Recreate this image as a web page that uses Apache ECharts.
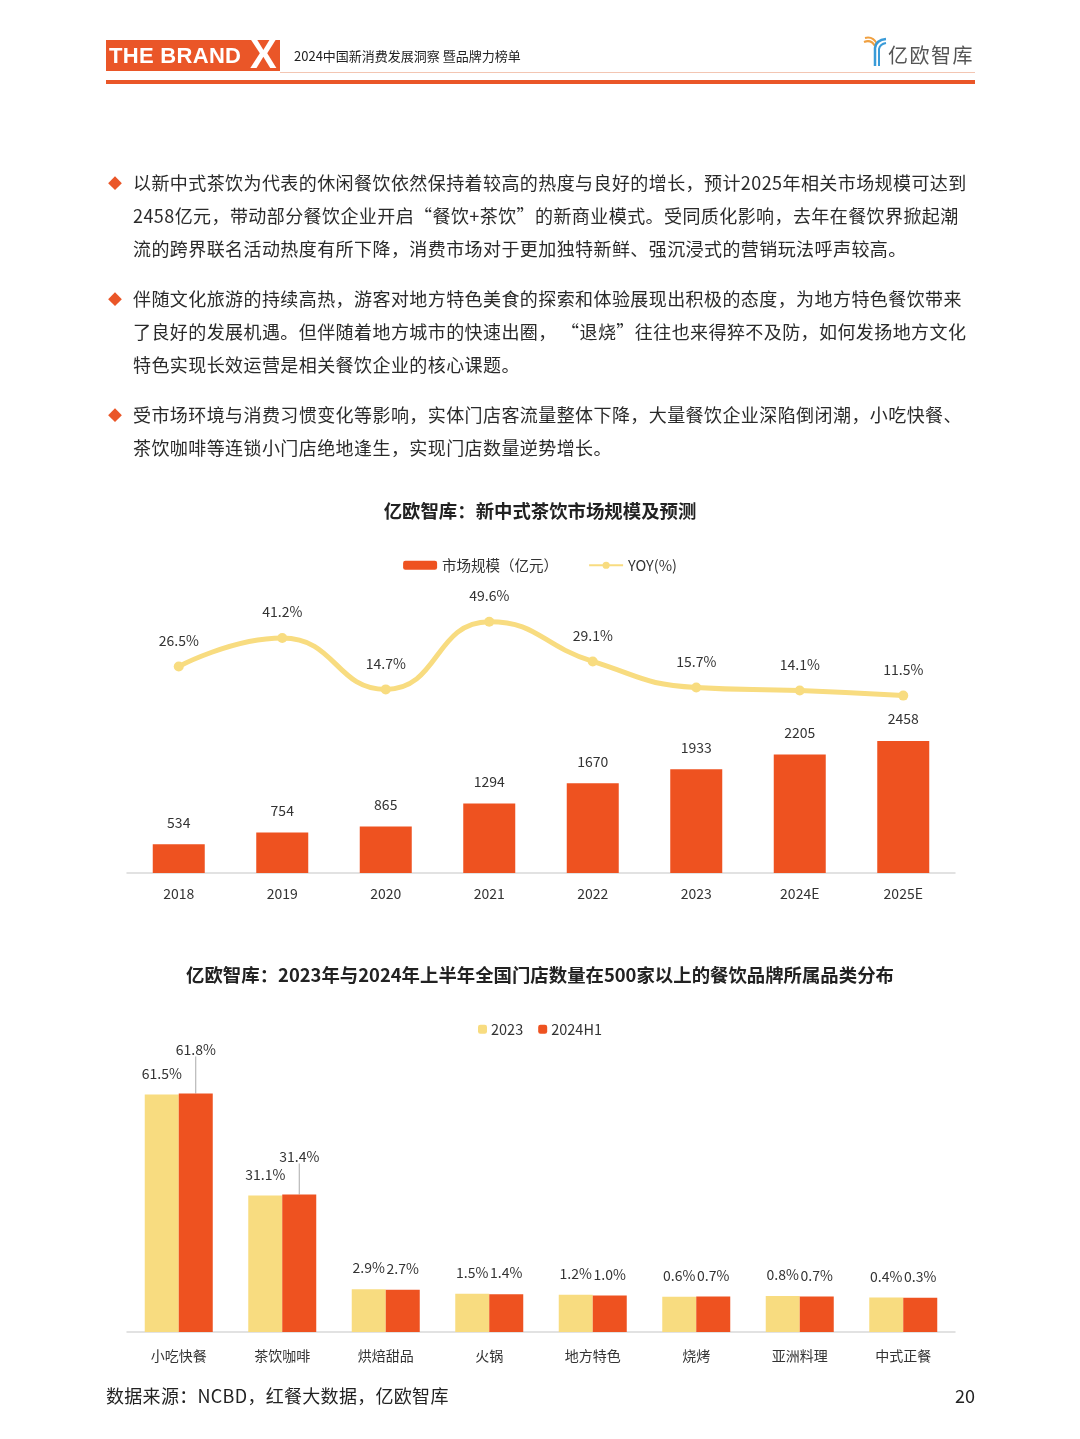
<!DOCTYPE html>
<html>
<head>
<meta charset="utf-8">
<title>新中式茶饮市场规模及预测</title>
<script src="https://cdn.jsdelivr.net/npm/echarts@6/dist/echarts.min.js"></script>
<style>
	body { margin: 0; background: #fff; font-family: "Noto Sans CJK SC", "Noto Sans", sans-serif; color: #222; }
	#page { position: relative; width: 1080px; height: 1439px; overflow: hidden; }
	#chart { position: absolute; left: 0; top: 0; width: 1080px; height: 1439px; }
	.abs { position: absolute; white-space: nowrap; }
	.para { left: 133px; font-size: 18px; line-height: 33px; letter-spacing: 0.42px; color: #2a2a2a; }
	.dot { left: 108px; font-size: 14px; line-height: 33px; color: #EA5628; }
</style>
</head>
<body>
<div id="page">
	<div id="chart"></div>

	<!-- header -->
	<div class="abs" style="left:106px;top:40px;width:174px;height:31px;background:#EA5628;"></div>
	<div class="abs" style="left:109px;top:41px;font:bold 22px/30px 'Liberation Sans',Arial,sans-serif;color:#fff;letter-spacing:0.3px;">THE BRAND</div>
	<div class="abs" style="left:250px;top:34px;font:bold 40px/40px 'Liberation Sans',Arial,sans-serif;color:#fff;">X</div>
	<div class="abs" style="left:294px;top:47px;font-size:13px;line-height:18px;color:#222;">2024中国新消费发展洞察 暨品牌力榜单</div>
	<div class="abs" style="left:280px;top:72px;width:695px;height:1px;background:#F3C6B3;"></div>
	<div class="abs" style="left:106px;top:80px;width:869px;height:4px;background:#EA5628;"></div>
	<svg class="abs" style="left:862px;top:36px;" width="26" height="32" viewBox="0 0 26 32">
		<path d="M2 6 Q9 3 13 10" stroke="#F0A040" stroke-width="2" fill="none"/>
		<path d="M3 2 Q11 0 15 8" stroke="#F0A040" stroke-width="2" fill="none"/>
		<path d="M13 30 L13 12 Q14 4 24 3" stroke="#3A9BD8" stroke-width="2.5" fill="none"/>
		<path d="M17 30 L17 13 Q18 8 24 7" stroke="#3A9BD8" stroke-width="2" fill="none"/>
	</svg>
	<div class="abs" style="left:888px;top:42px;font-size:20px;line-height:26px;color:#555;letter-spacing:1.5px;">亿欧智库</div>

	<!-- bullet text -->
	<div class="abs dot" style="top:166px;">◆</div>
	<div class="abs para" style="top:166px;">以新中式茶饮为代表的休闲餐饮依然保持着较高的热度与良好的增长，预计2025年相关市场规模可达到<br>2458亿元，带动部分餐饮企业开启“餐饮+茶饮”的新商业模式。受同质化影响，去年在餐饮界掀起潮<br>流的跨界联名活动热度有所下降，消费市场对于更加独特新鲜、强沉浸式的营销玩法呼声较高。</div>
	<div class="abs dot" style="top:282px;">◆</div>
	<div class="abs para" style="top:282px;">伴随文化旅游的持续高热，游客对地方特色美食的探索和体验展现出积极的态度，为地方特色餐饮带来<br>了良好的发展机遇。但伴随着地方城市的快速出圈， “退烧”往往也来得猝不及防，如何发扬地方文化<br>特色实现长效运营是相关餐饮企业的核心课题。</div>
	<div class="abs dot" style="top:398px;">◆</div>
	<div class="abs para" style="top:398px;">受市场环境与消费习惯变化等影响，实体门店客流量整体下降，大量餐饮企业深陷倒闭潮，小吃快餐、<br>茶饮咖啡等连锁小门店绝地逢生，实现门店数量逆势增长。</div>

	<!-- footer -->
	<div class="abs" style="left:106px;top:1382px;font-size:18px;line-height:26px;color:#222;letter-spacing:0.3px;">数据来源：NCBD，红餐大数据，亿欧智库</div>
	<div class="abs" style="left:945px;top:1382px;width:30px;text-align:right;font-size:18px;line-height:26px;color:#222;">20</div>
</div>

<script>
var years = ['2018', '2019', '2020', '2021', '2022', '2023', '2024E', '2025E'];
var marketSize = [534, 754, 865, 1294, 1670, 1933, 2205, 2458];
var yoy = [26.5, 41.2, 14.7, 49.6, 29.1, 15.7, 14.1, 11.5];

var categories = ['小吃快餐', '茶饮咖啡', '烘焙甜品', '火锅', '地方特色', '烧烤', '亚洲料理', '中式正餐'];
var share2023 = [61.5, 31.1, 2.9, 1.5, 1.2, 0.6, 0.8, 0.4];
var share2024H1 = [61.8, 31.4, 2.7, 1.4, 1.0, 0.7, 0.7, 0.3];

var ORANGE = '#EE5220';
var YELLOW = '#F8DC80';
var FONT = '"Noto Sans CJK SC", "Noto Sans", sans-serif';

function pct(p) {
	return p.value.toFixed(1) + '%';
}

var labelStyle = { fontSize: 14, color: '#333', fontFamily: FONT };

var chart = echarts.init(document.getElementById('chart'));

chart.setOption({
	animation: false,
	textStyle: { fontFamily: FONT },
	title: [
		{
			text: '亿欧智库：新中式茶饮市场规模及预测',
			left: 'center', top: 502, padding: 0,
			textStyle: { fontSize: 18.4, fontWeight: 'bold', color: '#222', fontFamily: FONT }
		},
		{
			text: '亿欧智库：2023年与2024年上半年全国门店数量在500家以上的餐饮品牌所属品类分布',
			left: 'center', top: 966, padding: 0,
			textStyle: { fontSize: 18.4, fontWeight: 'bold', color: '#222', fontFamily: FONT }
		}
	],
	legend: [
		{
			data: ['市场规模（亿元）', 'YOY(%)'],
			left: 'center', top: 558, padding: 0,
			itemWidth: 34, itemHeight: 9, itemGap: 30,
			textStyle: { fontSize: 14.5, color: '#333' }
		},
		{
			data: ['2023', '2024H1'],
			left: 'center', top: 1022, padding: 0,
			itemWidth: 9, itemHeight: 9, itemGap: 15,
			textStyle: { fontSize: 14.5, color: '#333', padding: [0, 0, 0, -1] }
		}
	],
	grid: [
		{ left: 127, width: 828, top: 524, height: 349 },
		{ left: 127, width: 828, top: 1033, height: 299 }
	],
	xAxis: [
		{
			gridIndex: 0, type: 'category', data: years,
			axisLine: { onZero: false, lineStyle: { color: '#d9d9d9', width: 1.5 } },
			axisTick: { show: false },
			axisLabel: { margin: 14, fontSize: 14, color: '#333' }
		},
		{
			gridIndex: 1, type: 'category', data: categories,
			axisLine: { onZero: false, lineStyle: { color: '#d9d9d9', width: 1.5 } },
			axisTick: { show: false },
			axisLabel: { margin: 17, fontSize: 14, color: '#333' }
		}
	],
	yAxis: [
		{ gridIndex: 0, type: 'value', min: 0, max: 6500, show: false },
		{ gridIndex: 0, type: 'value', min: -80, max: 100, show: false },
		{ gridIndex: 1, type: 'value', min: -10, max: 80, startValue: -10, show: false }
	],
	series: [
		{
			name: '市场规模（亿元）', type: 'bar',
			xAxisIndex: 0, yAxisIndex: 0,
			data: marketSize, barWidth: 52,
			itemStyle: { color: ORANGE },
			label: Object.assign({ show: true, position: 'top', distance: 15 }, labelStyle)
		},
		{
			name: 'YOY(%)', type: 'line',
			xAxisIndex: 0, yAxisIndex: 1,
			data: yoy, smooth: 0.5, clip: false,
			symbol: 'circle', symbolSize: 10,
			lineStyle: { color: YELLOW, width: 5 },
			itemStyle: { color: YELLOW },
			label: Object.assign({ show: true, position: 'top', distance: 14, formatter: pct }, labelStyle)
		},
		{
			name: '2023', type: 'bar',
			xAxisIndex: 1, yAxisIndex: 2,
			data: share2023, barWidth: 34, barGap: '0%',
			itemStyle: { color: YELLOW },
			label: Object.assign({ show: true, position: 'top', distance: 14, formatter: pct }, labelStyle)
		},
		{
			name: '2024H1', type: 'bar',
			xAxisIndex: 1, yAxisIndex: 2,
			data: share2024H1.map(function(v, i) {
				// the two tall bars have their labels lifted with a leader line
				return i < 2 ? { value: v, labelLine: { show: true } } : v;
			}),
			barWidth: 34, barGap: '0%',
			itemStyle: { color: ORANGE },
			label: Object.assign({ show: true, position: 'top', distance: 14, formatter: pct }, labelStyle),
			labelLine: { lineStyle: { color: '#aaa', width: 1 } },
			labelLayout: function(params) {
				if (params.dataIndex === 0) return { dy: -23 };
				if (params.dataIndex === 1) return { dy: -17 };
				return {};
			}
		}
	]
});
</script>
</body>
</html>
